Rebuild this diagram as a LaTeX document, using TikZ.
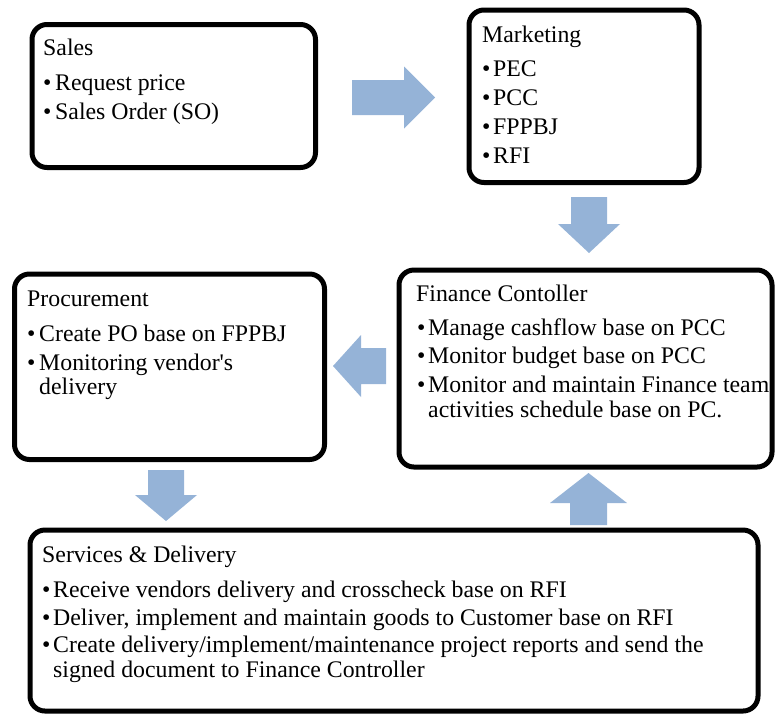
\documentclass[tikz,border=0pt]{standalone}
\usepackage{fontspec}
\setmainfont{Liberation Serif}
\usetikzlibrary{fit}

\definecolor{arrowblue}{RGB}{149,179,215}

\tikzset{
  card/.style={draw=black, line width=5pt, rounded corners=15pt, inner sep=0pt},
  flow/.style={fill=arrowblue, draw=none},
  lbl/.style={anchor=base west, inner sep=0pt, font=\fontsize{23.8}{28}\selectfont},
}

% one bulleted line: name, bullet x, text x, baseline y, text
\newcommand\bulletline[5]{%
  \node[lbl] (#1b) at (#2,-#4) {\textbullet};
  \node[lbl] (#1) at (#3,-#4) {#5};
}
% continuation line of a bullet (hanging indent)
\newcommand\moreline[4]{%
  \node[lbl] (#1) at (#2,-#3) {#4};
}

\begin{document}
\begin{tikzpicture}[x=1pt,y=1pt]
\useasboundingbox (0,0) rectangle (775,-716);

% ---- boxes ----
\node[card, fit={(32,-24.5) (315.5,-167.5)}] (sales) {};
\node[card, fit={(469,-10) (699,-182.5)}] (marketing) {};
\node[card, fit={(399,-270) (772,-467)}] (finance) {};
\node[card, fit={(14.5,-274) (324.5,-459.5)}] (procurement) {};
\node[card, fit={(30,-530) (758,-711)}] (services) {};

% ---- block arrows between the boxes ----
% Sales -> Marketing
\fill[flow] (352,-80) -- (404,-80) -- (404,-66.5) -- (435,-97.5)
  -- (404,-128.5) -- (404,-115) -- (352,-115) -- cycle;
% Marketing -> Finance
\fill[flow] (571,-197) -- (607,-197) -- (607,-224) -- (620,-224)
  -- (589,-253) -- (558,-224) -- (571,-224) -- cycle;
% Finance -> Procurement
\fill[flow] (386,-348) -- (361,-348) -- (361,-335) -- (333,-366)
  -- (361,-397) -- (361,-384) -- (386,-384) -- cycle;
% Procurement -> Services
\fill[flow] (148,-470) -- (184,-470) -- (184,-495) -- (197,-495)
  -- (166,-521) -- (135,-495) -- (148,-495) -- cycle;
% Services -> Finance
\fill[flow] (570,-525) -- (607,-525) -- (607,-503) -- (627,-503)
  -- (588.5,-473) -- (550,-503) -- (570,-503) -- cycle;

% ---- Sales ----
\node[lbl] (salesT) at (43,-55) {Sales};
\bulletline{sales1}{43}{55}{90}{Request price}
\bulletline{sales2}{43}{55}{119}{Sales Order (SO)}

% ---- Marketing ----
\node[lbl] (mktT) at (482,-42) {Marketing};
\bulletline{mkt1}{482}{493}{76}{PEC}
\bulletline{mkt2}{482}{493}{105}{PCC}
\bulletline{mkt3}{482}{493}{134}{FPPBJ}
\bulletline{mkt4}{482}{493}{163}{RFI}

% ---- Procurement ----
\node[lbl] (procT) at (27,-306) {Procurement};
\bulletline{proc1}{27}{39}{341}{Create PO base on FPPBJ}
\bulletline{proc2}{27}{39}{370}{Monitoring vendor\textquotesingle s}
\moreline{proc2b}{39}{394}{delivery}

% ---- Finance Contoller ----
\node[lbl] (finT) at (416,-301) {Finance Contoller};
\bulletline{fin1}{417}{428}{335}{Manage cashflow base on PCC}
\bulletline{fin2}{417}{428}{363}{Monitor budget base on PCC}
\bulletline{fin3}{417}{428}{392}{Monitor and maintain Finance team}
\moreline{fin3b}{428}{417}{activities schedule base on PC.}

% ---- Services & Delivery ----
\node[lbl] (srvT) at (42,-562) {Services \& Delivery};
\bulletline{srv1}{42}{53}{597}{Receive vendors delivery and crosscheck base on RFI}
\bulletline{srv2}{42}{53}{625}{Deliver, implement and maintain goods to Customer base on RFI}
\bulletline{srv3}{42}{53}{652}{Create delivery/implement/maintenance project reports and send the}
\moreline{srv3b}{53}{677}{signed document to Finance Controller}
\end{tikzpicture}
\end{document}
